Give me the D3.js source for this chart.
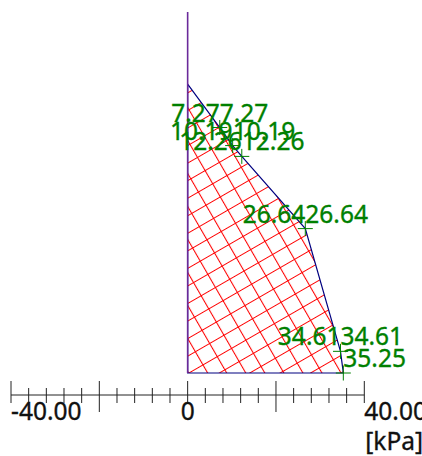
<!DOCTYPE html>
<html>
<head>
<meta charset="utf-8">
<script src="https://cdn.jsdelivr.net/npm/d3@7"></script>
<style>
body { margin: 0; background: #fff; }
svg text { font-family: "Noto Sans", "DejaVu Sans", sans-serif; font-size: 24.5px; stroke-width: 0.35px; }
</style>
</head>
<body>
<div id="chart"></div>
<script>
// pressure diagram data
const depths = [2.0, 3.2, 3.7, 4.0, 6.0, 9.4, 10.0];
const pressures = [0, 7.27, 10.19, 12.26, 26.64, 34.61, 35.25];
const leftLabels = ["", "7.27", "10.19", "12.26", "26.64", "34.61", ""];
const rightLabels = ["", "7.27", "10.19", "12.26", "26.64", "34.61", "35.25"];

// axis
const tickValues = d3.range(-40, 41, 4);
const majorTicks = [-20, 20];
const labelTicks = [-40, 0, 40];
const tickLabels = ["-40.00", "0", "40.00"];
const unitLabel = "[kPa]";

const width = 422, height = 456;

const svg = d3.select("#chart").append("svg")
    .attr("width", width)
    .attr("height", height);

const x = d3.scaleLinear().domain([-40, 40]).range([11, 364.3]);
const y = d3.scaleLinear().domain([0, 10]).range([12, 373]);

// cross hatch
const pat = svg.append("defs").append("pattern")
    .attr("id", "hatch")
    .attr("patternUnits", "userSpaceOnUse")
    .attr("width", 16.5)
    .attr("height", 15.2)
    .attr("patternTransform", "translate(188,373) rotate(-30)");
pat.append("path")
    .attr("d", "M0,0.5 H16.5 M0.5,0 V15.2")
    .attr("stroke", "#ff0000")
    .attr("stroke-width", 1.1)
    .attr("fill", "none");

const pts = pressures.map((p, i) => [x(p), y(depths[i])]);
pts.push([x(0), y(depths[depths.length - 1])]);

svg.append("path")
    .attr("d", d3.line()(pts) + "Z")
    .attr("fill", "url(#hatch)")
    .attr("stroke", "#000080")
    .attr("stroke-width", 1.2);

// wall line
svg.append("line")
    .attr("x1", x(0)).attr("x2", x(0))
    .attr("y1", y(0)).attr("y2", y(depths[depths.length - 1]))
    .attr("stroke", "#6a2a9a")
    .attr("stroke-width", 1.6);

// markers and value labels
const marks = svg.append("g");
pressures.forEach((p, i) => {
    if (!rightLabels[i]) return;
    const px = x(p), py = y(depths[i]);
    marks.append("path")
        .attr("d", `M${px - 7.5},${py}H${px + 7.5}M${px},${py - 7.5}V${py + 7.5}`)
        .attr("stroke", "#008000")
        .attr("stroke-width", 1);
    if (leftLabels[i]) {
        marks.append("text")
            .attr("x", px).attr("y", py - 6)
            .attr("text-anchor", "end")
            .attr("fill", "#008000").attr("stroke", "#008000")
            .text(leftLabels[i]);
    }
    marks.append("text")
        .attr("x", px).attr("y", py - 6)
        .attr("text-anchor", "start")
        .attr("fill", "#008000").attr("stroke", "#008000")
        .text(rightLabels[i]);
});

// bottom axis
const axisY = 395;
const ax = svg.append("g");
ax.append("line")
    .attr("x1", x(-40)).attr("x2", x(40))
    .attr("y1", axisY).attr("y2", axisY)
    .attr("stroke", "#222");
ax.selectAll(".tick")
    .data(tickValues)
    .enter().append("line")
    .attr("class", "tick")
    .attr("x1", d => x(d)).attr("x2", d => x(d))
    .attr("y1", d => labelTicks.includes(d) || majorTicks.includes(d) ? 381 : 388)
    .attr("y2", d => majorTicks.includes(d) ? 412 : 403)
    .attr("stroke", "#222");

ax.selectAll(".lbl")
    .data(labelTicks)
    .enter().append("text")
    .attr("class", "lbl")
    .attr("x", d => x(d))
    .attr("y", 420)
    .attr("text-anchor", d => d === 0 ? "middle" : "start")
    .attr("fill", "#111").attr("stroke", "#111")
    .text((d, i) => tickLabels[i]);

ax.append("text")
    .attr("x", x(40) + 1)
    .attr("y", 450)
    .attr("fill", "#111").attr("stroke", "#111")
    .text(unitLabel);
</script>
</body>
</html>
